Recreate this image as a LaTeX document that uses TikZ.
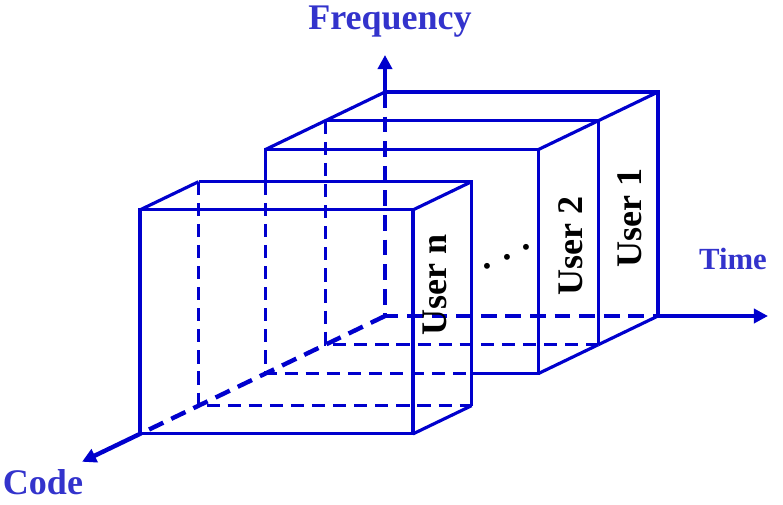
\documentclass[tikz,border=0pt]{standalone}
\usepackage{fontspec}
\setmainfont{Liberation Serif}
\usetikzlibrary{arrows.meta}

\definecolor{lineblue}{RGB}{0,0,205}
\definecolor{labelblue}{RGB}{51,51,204}

\begin{document}
\begin{tikzpicture}[
    x=1cm, y=1cm, z={(-1.195cm,-0.575cm)},
    every node/.style={font=\fontsize{20.5}{24}\selectfont\bfseries},
    edge/.style={draw=lineblue, line width=1.8pt},
    hidden/.style={edge, dash pattern=on 7.5pt off 4.5pt},
    axis/.style={draw=lineblue, line width=2.5pt},
    axishidden/.style={axis, dash pattern=on 9pt off 5pt},
    axislabel/.style={text=labelblue, anchor=base},
    userlabel/.style={rotate=90, anchor=base},
    >={Triangle[length=8pt,width=8pt]}
  ]
    \useasboundingbox (-7.7,-3.78) rectangle (7.96,6.32);

    % corners of the slabs, back (l0) to front (l4)
    \coordinate (l0-bl) at (0,0,0);    \coordinate (l0-tl) at (0,4.48,0);
    \coordinate (l0-tr) at (5.46,4.48,0); \coordinate (l0-br) at (5.46,0,0);
    \coordinate (l1-bl) at (0,0,1);    \coordinate (l1-tl) at (0,4.48,1);
    \coordinate (l1-tr) at (5.46,4.48,1); \coordinate (l1-br) at (5.46,0,1);
    \coordinate (l2-bl) at (0,0,2);    \coordinate (l2-tl) at (0,4.48,2);
    \coordinate (l2-tr) at (5.46,4.48,2); \coordinate (l2-br) at (5.46,0,2);
    \coordinate (l3-bl) at (0,0,3.12); \coordinate (l3-tl) at (0,4.48,3.12);
    \coordinate (l3-tr) at (5.46,4.48,3.12); \coordinate (l3-br) at (5.46,0,3.12);
    \coordinate (l4-bl) at (0,0,4.1);  \coordinate (l4-tl) at (0,4.48,4.1);
    \coordinate (l4-tr) at (5.46,4.48,4.1); \coordinate (l4-br) at (5.46,0,4.1);

    % axes
    \coordinate (freq) at (0,5.22,0);
    \coordinate (time) at (7.66,0,0);
    \coordinate (code) at (0,0,5.07);
    \draw[axishidden] (l0-tl) -- (l0-bl) -- (l0-br);
    \draw[axishidden] (l0-bl) -- (l4-bl);
    \draw[axis, ->] (l0-tl) -- (freq);
    \draw[axis, ->] (l0-br) -- (time);
    \draw[axis, ->] (l4-bl) -- (code);

    % User 1
    \draw[edge] (l0-tl) -- (l0-tr) -- (l0-br);
    \draw[edge] (l0-tl) -- (l1-tl) -- (l2-tl);
    \draw[edge] (l0-tr) -- (l1-tr);
    \draw[edge] (l0-br) -- (l1-br);
    \draw[edge] (l1-tl) -- (l1-tr) -- (l1-br);
    \draw[hidden] (l1-tl) -- (l1-bl) -- (l1-br);

    % User 2
    \draw[edge] (l1-tr) -- (l2-tr);
    \draw[edge] (l1-br) -- (l2-br);
    \draw[edge] (l2-tl |- l3-tl) -- (l2-tl) -- (l2-tr) -- (l2-br) -- (l3-br |- l2-br);
    \draw[hidden] (l2-tl |- l3-tl) -- (l2-bl) -- (l3-br |- l2-br);

    % User n
    \draw[hidden] (l3-tl) -- (l3-bl) -- (l3-br);
    \draw[edge] (l3-tl) -- (l3-tr) -- (l3-br);
    \draw[edge] (l3-tl) -- (l4-tl);
    \draw[edge] (l3-tr) -- (l4-tr);
    \draw[edge] (l3-br) -- (l4-br);
    \draw[edge] (l4-tl) -- (l4-tr) -- (l4-br) -- (l4-bl) -- cycle;

    % labels
    \node[axislabel] (freqlabel) at (0.1,5.72) {Frequency};
    \node[axislabel, font=\fontsize{17.5}{21}\selectfont\bfseries] (timelabel) at (6.96,0.92) {Time};
    \node[axislabel] (codelabel) at (-6.84,-3.56) {Code};
    \node[userlabel] (user1) at (5.14,1.96) {User 1};
    \node[userlabel] (user2) at (3.96,1.40) {User 2};
    \node[userlabel] (usern) at (1.24,0.62) {User n};
    \node[rotate=26.6, inner sep=0pt] (dots) at (2.44,1.18) {.\hspace{0.35em}.\hspace{0.35em}.};
  \end{tikzpicture}
\end{document}
